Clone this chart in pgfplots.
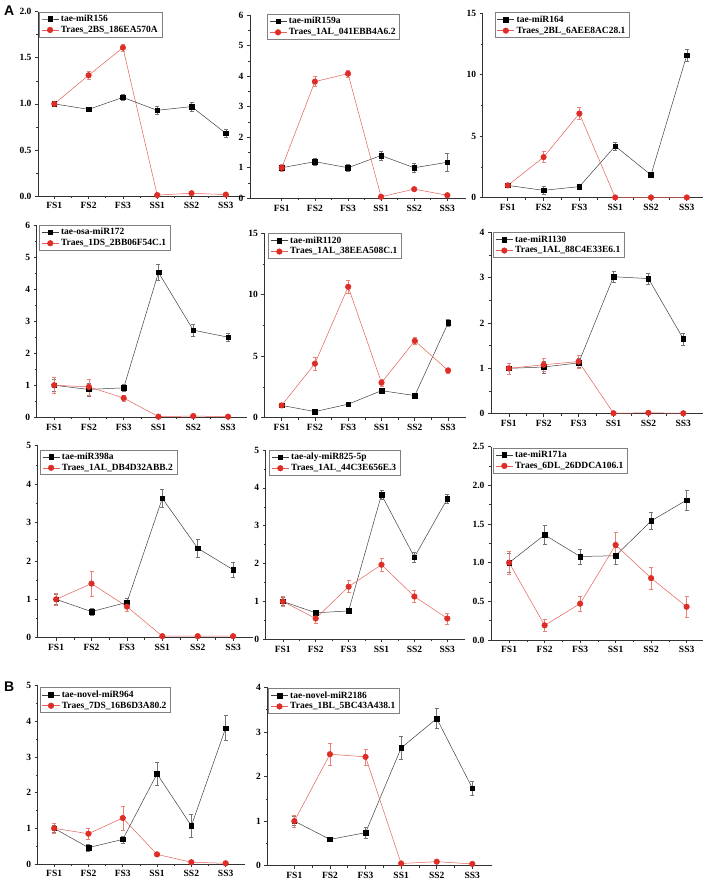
\documentclass[border=0pt]{standalone}
\usepackage{pgfplots}
\pgfplotsset{compat=1.18}
\usepackage{fontspec}
\setmainfont{Liberation Serif}
\newfontfamily\labfont{Liberation Sans}
\definecolor{reddot}{RGB}{222,45,38}
\definecolor{redline}{RGB}{228,95,85}
\definecolor{redbar}{RGB}{235,130,120}

\pgfplotsset{
  pan/.style={
    scale only axis, anchor=south west,
    axis x line=bottom, axis y line=left,
    axis line style={-, black!80, line width=0.7pt},
    ymin=0,
    xtick={0,...,5}, xticklabels={FS1,FS2,FS3,SS1,SS2,SS3},
    minor x tick num=1, minor y tick num=1,
    tick align=outside, major tick length=3pt, minor tick length=1.8pt,
    tick style={black!80, line width=0.6pt},
    tick label style={font=\bfseries\fontsize{9.5}{10}\selectfont},
    /pgf/number format/assume math mode=true,
    legend style={draw=black!50, line width=0.5pt,
      font=\bfseries\fontsize{9.5}{10}\selectfont,
      anchor=north west, inner xsep=2pt, inner ysep=1pt, row sep=-1pt},
    legend cell align=left, clip=false,
  },
  onedec/.style={yticklabel style={/pgf/number format/.cd, fixed, fixed zerofill, precision=1}},
  bl/.style={color=black!75, line width=0.5pt, mark=square*, mark size=2.3pt,
    mark options={fill=black, draw=black, solid},
    error bars/.cd, y dir=both, y explicit,
    error bar style={black!55, line width=0.5pt},
    error mark options={rotate=90, mark size=2pt, black!55, line width=0.5pt}},
  rd/.style={color=redline, line width=0.5pt, mark=*, mark size=2.8pt,
    mark options={fill=reddot, draw=reddot, solid},
    error bars/.cd, y dir=both, y explicit,
    error bar style={redbar, line width=0.5pt},
    error mark options={rotate=90, mark size=2pt, redbar, line width=0.5pt}},
}

\begin{document}
\begin{tikzpicture}
\useasboundingbox (0,0) rectangle (708pt,-881pt);
\node[anchor=north west, inner sep=0pt, font=\labfont\bfseries\fontsize{14}{14}\selectfont] at (4pt,-6pt) {A};
\node[anchor=north west, inner sep=0pt, font=\labfont\bfseries\fontsize{14}{14}\selectfont] at (4pt,-682pt) {B};

% ---- row 1 ----
\begin{axis}[pan, onedec, at={(38pt,-196pt)}, width=206.7pt, height=184.3pt,
  xmin=-0.475, xmax=5.55, ymax=2, ytick distance=0.5,
  legend style={at={(0.005,1)}}]
\addplot[bl] table[x=x,y=y,y error=e]{
x y e
0 1.00 0.01
1 0.94 0.02
2 1.07 0.03
3 0.93 0.04
4 0.97 0.05
5 0.68 0.04
};
\addplot[rd] table[x=x,y=y,y error=e]{
x y e
0 1.00 0.02
1 1.31 0.04
2 1.61 0.04
3 0.01 0.005
4 0.03 0.005
5 0.015 0.005
};
\legend{tae-miR156,Traes\_2BS\_186EA570A}
\end{axis}

\begin{axis}[pan, at={(250pt,-198.3pt)}, width=215.5pt, height=183.3pt,
  xmin=-0.96, xmax=5.55, ymax=6, ytick distance=1,
  legend style={at={(0.079,1.005)}}]
\addplot[bl] table[x=x,y=y,y error=e]{
x y e
0 1.00 0.10
1 1.20 0.12
2 1.00 0.12
3 1.40 0.15
4 1.00 0.15
5 1.18 0.28
};
\addplot[rd] table[x=x,y=y,y error=e]{
x y e
0 1.00 0.12
1 3.82 0.16
2 4.08 0.12
3 0.05 0.02
4 0.30 0.03
5 0.10 0.02
};
\legend{tae-miR159a,Traes\_1AL\_041EBB4A6.2}
\end{axis}

\begin{axis}[pan, at={(482.7pt,-197.7pt)}, width=220.2pt, height=184.4pt,
  xmin=-0.70, xmax=5.45, ymax=15, ytick distance=5,
  legend style={at={(0.055,1.005)}}]
\addplot[bl] table[x=x,y=y,y error=e]{
x y e
0 1.00 0.10
1 0.60 0.30
2 0.90 0.15
3 4.20 0.30
4 1.85 0.20
5 11.60 0.50
};
\addplot[rd] table[x=x,y=y,y error=e]{
x y e
0 1.00 0.10
1 3.30 0.45
2 6.85 0.50
3 0.02 0.01
4 0.02 0.01
5 0.02 0.01
};
\legend{tae-miR164,Traes\_2BL\_6AEE8AC28.1}
\end{axis}

% ---- row 2 ----
\begin{axis}[pan, at={(36.7pt,-417.3pt)}, width=210.5pt, height=192.3pt,
  xmin=-0.5, xmax=5.55, ymax=6, ytick distance=1,
  legend style={at={(0.012,1)}}]
\addplot[bl] table[x=x,y=y,y error=e]{
x y e
0 1.00 0.20
1 0.87 0.20
2 0.92 0.12
3 4.52 0.25
4 2.72 0.18
5 2.50 0.13
};
\addplot[rd] table[x=x,y=y,y error=e]{
x y e
0 1.00 0.25
1 0.95 0.25
2 0.60 0.10
3 0.02 0.01
4 0.04 0.02
5 0.02 0.01
};
\legend{tae-osa-miR172,Traes\_1DS\_2BB06F54C.1}
\end{axis}

\begin{axis}[pan, at={(264.3pt,-417.7pt)}, width=202.1pt, height=184.4pt,
  xmin=-0.52, xmax=5.55, ymax=15, ytick distance=5,
  legend style={at={(0.02,1)}}]
\addplot[bl] table[x=x,y=y,y error=e]{
x y e
0 1.00 0.10
1 0.50 0.10
2 1.10 0.15
3 2.20 0.20
4 1.80 0.20
5 7.70 0.30
};
\addplot[rd] table[x=x,y=y,y error=e]{
x y e
0 1.00 0.10
1 4.40 0.50
2 10.65 0.55
3 2.85 0.30
4 6.25 0.30
5 3.85 0.20
};
\legend{tae-miR1120,Traes\_1AL\_38EEA508C.1}
\end{axis}

\begin{axis}[pan, at={(491pt,-413.7pt)}, width=211.5pt, height=181.4pt,
  xmin=-0.51, xmax=5.55, ymax=4, ytick distance=1,
  legend style={at={(0.011,1)}}]
\addplot[bl] table[x=x,y=y,y error=e]{
x y e
0 1.00 0.12
1 1.03 0.13
2 1.12 0.10
3 3.02 0.13
4 2.98 0.12
5 1.65 0.13
};
\addplot[rd] table[x=x,y=y,y error=e]{
x y e
0 1.00 0.12
1 1.08 0.15
2 1.15 0.14
3 0.01 0.01
4 0.02 0.01
5 0.01 0.01
};
\legend{tae-miR1130,Traes\_1AL\_88C4E33E6.1}
\end{axis}

% ---- row 3 ----
\begin{axis}[pan, at={(37.7pt,-637.7pt)}, width=214.9pt, height=192pt,
  xmin=-0.52, xmax=5.55, ymax=5, ytick distance=1,
  legend style={at={(0.011,0.98)}}]
\addplot[bl] table[x=x,y=y,y error=e]{
x y e
0 1.00 0.12
1 0.68 0.10
2 0.92 0.12
3 3.63 0.23
4 2.33 0.23
5 1.77 0.20
};
\addplot[rd] table[x=x,y=y,y error=e]{
x y e
0 1.00 0.15
1 1.41 0.33
2 0.81 0.12
3 0.04 0.02
4 0.04 0.02
5 0.04 0.02
};
\legend{tae-miR398a,Traes\_1AL\_DB4D32ABB.2}
\end{axis}

\begin{axis}[pan, at={(265.7pt,-639.3pt)}, width=199.7pt, height=189.3pt,
  xmin=-0.52, xmax=5.55, ymax=5, ytick distance=1,
  legend style={at={(0.018,1)}}]
\addplot[bl] table[x=x,y=y,y error=e]{
x y e
0 1.00 0.10
1 0.70 0.05
2 0.75 0.05
3 3.82 0.12
4 2.17 0.13
5 3.71 0.12
};
\addplot[rd] table[x=x,y=y,y error=e]{
x y e
0 1.00 0.13
1 0.55 0.12
2 1.39 0.16
3 1.97 0.17
4 1.13 0.16
5 0.55 0.14
};
\legend{tae-aly-miR825-5p,Traes\_1AL\_44C3E656E.3}
\end{axis}

\begin{axis}[pan, onedec, at={(491pt,-640pt)}, width=211.6pt, height=193.3pt,
  xmin=-0.51, xmax=5.45, ymax=2.5, ytick distance=0.5,
  legend style={at={(0.011,0.995)}}]
\addplot[bl] table[x=x,y=y,y error=e]{
x y e
0 1.00 0.12
1 1.36 0.12
2 1.08 0.10
3 1.09 0.11
4 1.54 0.11
5 1.81 0.13
};
\addplot[rd] table[x=x,y=y,y error=e]{
x y e
0 1.00 0.15
1 0.19 0.08
2 0.47 0.10
3 1.23 0.16
4 0.80 0.14
5 0.43 0.14
};
\legend{tae-miR171a,Traes\_6DL\_26DDCA106.1}
\end{axis}

% ---- row B ----
\begin{axis}[pan, at={(37.7pt,-864pt)}, width=206.8pt, height=178.3pt,
  xmin=-0.48, xmax=5.55, ymax=5, ytick distance=1,
  legend style={at={(0.011,0.99)}}]
\addplot[bl] table[x=x,y=y,y error=e]{
x y e
0 1.00 0.10
1 0.46 0.10
2 0.69 0.10
3 2.53 0.32
4 1.07 0.32
5 3.81 0.35
};
\addplot[rd] table[x=x,y=y,y error=e]{
x y e
0 1.00 0.15
1 0.85 0.15
2 1.29 0.33
3 0.27 0.06
4 0.05 0.02
5 0.02 0.01
};
\legend{tae-novel-miR964,Traes\_7DS\_16B6D3A80.2}
\end{axis}

\begin{axis}[pan, at={(267.3pt,-865.7pt)}, width=224.6pt, height=178.4pt,
  xmin=-0.76, xmax=5.55, ymax=4, ytick distance=1,
  legend style={at={(0.005,0.995)}}]
\addplot[bl] table[x=x,y=y,y error=e]{
x y e
0 1.00 0.10
1 0.59 0.04
2 0.74 0.13
3 2.64 0.26
4 3.30 0.22
5 1.74 0.16
};
\addplot[rd] table[x=x,y=y,y error=e]{
x y e
0 1.00 0.13
1 2.50 0.25
2 2.44 0.18
3 0.05 0.02
4 0.09 0.02
5 0.04 0.02
};
\legend{tae-novel-miR2186,Traes\_1BL\_5BC43A438.1}
\end{axis}
\end{tikzpicture}
\end{document}
